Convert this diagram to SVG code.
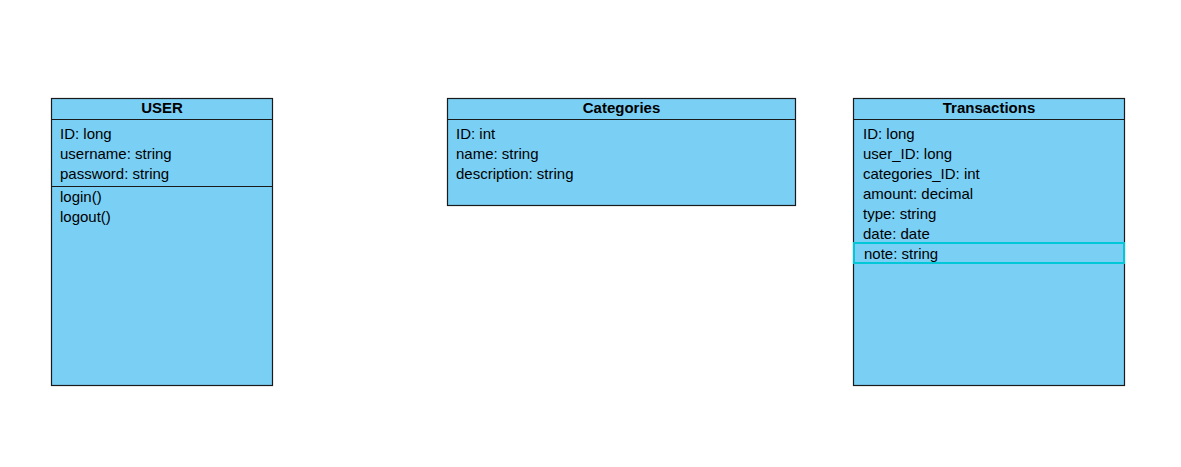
<svg xmlns="http://www.w3.org/2000/svg" width="1181" height="467" viewBox="0 0 1181 467">
<style>
.box{fill:#7acff5;stroke:#1a1a1a;stroke-width:1.2}
.div{stroke:#1a1a1a;stroke-width:1.2}
.t{font-family:"Liberation Sans",Arial,sans-serif;font-size:15px;fill:#000}
.h{font-family:"Liberation Sans",Arial,sans-serif;font-size:15px;font-weight:bold;fill:#000;text-anchor:middle}
</style>
<rect width="1181" height="467" fill="#ffffff"/>
<g id="user">
<rect class="box" x="51.5" y="98.5" width="221" height="287"/>
<line class="div" x1="51.5" y1="119.5" x2="272.5" y2="119.5"/>
<line class="div" x1="51.5" y1="186.5" x2="272.5" y2="186.5"/>
<text class="h" x="162" y="113">USER</text>
<text class="t" x="60" y="139">ID: long</text>
<text class="t" x="60" y="159">username: string</text>
<text class="t" x="60" y="179">password: string</text>
<text class="t" x="60" y="202">login()</text>
<text class="t" x="60" y="222">logout()</text>
</g>
<g id="categories">
<rect class="box" x="447.5" y="98.5" width="348" height="107"/>
<line class="div" x1="447.5" y1="119.5" x2="795.5" y2="119.5"/>
<text class="h" x="621.5" y="113">Categories</text>
<text class="t" x="456" y="139">ID: int</text>
<text class="t" x="456" y="159">name: string</text>
<text class="t" x="456" y="179">description: string</text>
</g>
<g id="transactions">
<rect class="box" x="853.5" y="98.5" width="271" height="287"/>
<line class="div" x1="853.5" y1="119.5" x2="1124.5" y2="119.5"/>
<text class="h" x="989" y="113">Transactions</text>
<text class="t" x="863" y="139">ID: long</text>
<text class="t" x="863" y="159">user_ID: long</text>
<text class="t" x="863" y="179">categories_ID: int</text>
<text class="t" x="863" y="199">amount: decimal</text>
<text class="t" x="863" y="219">type: string</text>
<text class="t" x="863" y="239">date: date</text>
<rect x="854" y="243" width="270" height="20" fill="none" stroke="#00c8d8" stroke-width="2"/>
<text class="t" x="864" y="259">note: string</text>
</g>
<g id="connectors"></g>
</svg>
